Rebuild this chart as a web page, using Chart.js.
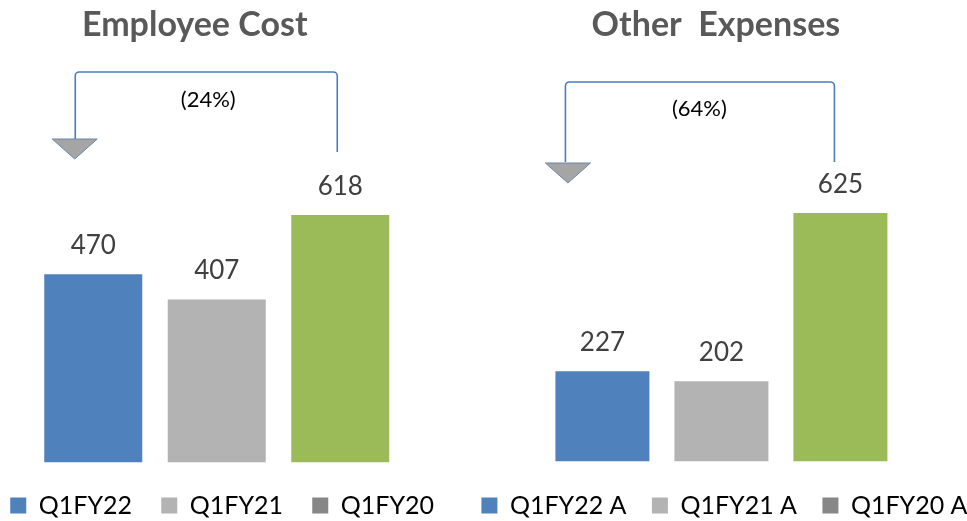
<!DOCTYPE html>
<html>
<head>
<meta charset="utf-8">
<script src="https://cdn.jsdelivr.net/npm/chart.js@4.4.1/dist/chart.umd.min.js"></script>
<style>
  html, body { margin: 0; padding: 0; background: #fff; overflow: hidden; width: 967px; height: 521px; }
  canvas { position: absolute; top: 0; }
</style>
</head>
<body>
<canvas id="employee-chart"></canvas>
<canvas id="expense-chart"></canvas>
<script>
// data
const categories = ['Q1FY22', 'Q1FY21', 'Q1FY20'];
const employeeCost = [470, 407, 618];
const otherExpenses = [227, 202, 625];
const employeeLegend = ['Q1FY22', 'Q1FY21', 'Q1FY20'];
const expenseLegend = ['Q1FY22 A', 'Q1FY21 A', 'Q1FY20 A'];
const chartTitles = ['Employee Cost', 'Other  Expenses'];
const changeLabels = ['(24%)', '(64%)'];

const barColors = ['#4F81BD', '#B3B3B3', '#9BBB59'];
const legendColors = ['#4F81BD', '#B3B3B3', '#878787'];
const FONT = 'Lato, "Open Sans", sans-serif';
const LEGEND_SIZE = 25;
const LEGEND_BOX = 16;

// draws titles, value labels and the bracket arrow
function makeDecor(spec, offsetX) {
  return {
    id: 'decor',
    afterDatasetsDraw(chart) {
      const ctx = chart.ctx;
      ctx.save();
      // title
      ctx.fillStyle = '#595959';
      ctx.font = 'bold 34px ' + FONT;
      ctx.textAlign = 'center';
      ctx.textBaseline = 'alphabetic';
      ctx.fillText(spec.title, spec.titleX - offsetX, 36);

      // value labels
      ctx.fillStyle = '#404040';
      ctx.font = '26px ' + FONT;
      chart.getDatasetMeta(0).data.forEach((bar, i) => {
        ctx.fillText(String(spec.values[i]), bar.x, bar.y - 20);
      });

      // bracket
      const b = spec.bracket;
      const x1 = b.x1 - offsetX, x2 = b.x2 - offsetX, r = 4;
      ctx.strokeStyle = '#4A7EBB';
      ctx.lineWidth = 1.6;
      ctx.beginPath();
      ctx.moveTo(x1, b.leftBottom);
      ctx.arcTo(x1, b.top, x1 + r, b.top, r);
      ctx.arcTo(x2, b.top, x2, b.top + r, r);
      ctx.lineTo(x2, b.rightBottom);
      ctx.stroke();

      // arrow head
      const cx = b.triX - offsetX;
      ctx.beginPath();
      ctx.moveTo(cx - 22.5, b.triTop);
      ctx.lineTo(cx + 22.5, b.triTop);
      ctx.lineTo(cx, b.triTop + 20);
      ctx.closePath();
      ctx.fillStyle = '#A5A5A5';
      ctx.fill();
      ctx.lineWidth = 1;
      ctx.strokeStyle = '#6B86A8';
      ctx.stroke();

      // change label
      ctx.fillStyle = '#000';
      ctx.font = '22px ' + FONT;
      ctx.textBaseline = 'middle';
      ctx.fillText(b.label, b.labelX - offsetX, b.labelY);
      ctx.restore();
    }
  };
}

function buildChart(id, spec) {
  const canvas = document.getElementById(id);
  const m = canvas.getContext('2d');
  m.font = LEGEND_SIZE + 'px ' + FONT;
  const textW = m.measureText(spec.legend[0]).width;
  const labelPad = spec.legendStep - LEGEND_BOX - LEGEND_SIZE / 2 - textW;
  const left = spec.firstBoxX - labelPad;
  const gap = Math.max(0, 505 - LEGEND_SIZE / 2 - labelPad - spec.areaBottom);
  const width = Math.ceil(Math.max(spec.minRight - left, 3 * (LEGEND_BOX + LEGEND_SIZE / 2 + textW + labelPad) + labelPad + 20));
  const height = Math.ceil(spec.areaBottom + gap + labelPad + LEGEND_SIZE + 10);

  canvas.width = width;
  canvas.height = height;
  canvas.style.width = width + 'px';
  canvas.style.height = height + 'px';
  canvas.style.left = left + 'px';

  new Chart(canvas.getContext('2d'), {
    type: 'bar',
    data: {
      labels: categories,
      datasets: [{
        label: spec.title,
        data: spec.values,
        backgroundColor: barColors,
        borderWidth: 0,
        categoryPercentage: 1,
        barPercentage: spec.barPct
      }]
    },
    options: {
      responsive: false,
      animation: false,
      layout: { padding: { top: spec.areaTop, left: 0, right: 0, bottom: 0 } },
      plugins: {
        title: { display: false },
        tooltip: { enabled: false },
        legend: {
          position: 'bottom',
          align: 'start',
          onClick: null,
          labels: {
            boxWidth: LEGEND_BOX,
            boxHeight: LEGEND_BOX,
            padding: labelPad,
            color: '#595959',
            font: { family: FONT, size: LEGEND_SIZE },
            generateLabels: () => spec.legend.map((t, i) => ({
              text: t,
              fillStyle: legendColors[i],
              strokeStyle: legendColors[i],
              lineWidth: 0,
              hidden: false,
              index: i
            }))
          }
        }
      },
      scales: {
        x: {
          grid: { display: false },
          border: { display: false },
          ticks: { display: false },
          afterFit: s => { s.height = gap; }
        },
        y: {
          min: 0,
          max: spec.yMax,
          grid: { display: false },
          border: { display: false },
          ticks: { display: false },
          afterFit: s => { s.width = spec.areaLeft - left; }
        },
        yR: {
          position: 'right',
          min: 0,
          max: 1,
          grid: { display: false },
          border: { display: false },
          ticks: { display: false },
          afterFit: s => { s.width = width - (spec.areaRight - left); }
        }
      }
    },
    plugins: [makeDecor(spec, left)]
  });
}

buildChart('employee-chart', {
  title: chartTitles[0],
  values: employeeCost,
  legend: employeeLegend,
  titleX: 194.5,
  firstBoxX: 10,
  legendStep: 151,
  areaLeft: 31.25,
  areaRight: 401.75,
  minRight: 480,
  areaTop: 62,
  areaBottom: 462,
  yMax: 1000,
  barPct: 98 / 123.5,
  bracket: { x1: 75, x2: 337, top: 72, leftBottom: 140, rightBottom: 152,
             triX: 74.5, triTop: 139, label: changeLabels[0], labelX: 208, labelY: 100 }
});

buildChart('expense-chart', {
  title: chartTitles[1],
  values: otherExpenses,
  legend: expenseLegend,
  titleX: 715.5,
  firstBoxX: 481,
  legendStep: 170.5,
  areaLeft: 542.5,
  areaRight: 899.5,
  minRight: 967,
  areaTop: 64,
  areaBottom: 461,
  yMax: 1000,
  barPct: 94 / 119,
  bracket: { x1: 565, x2: 834, top: 82, leftBottom: 162, rightBottom: 162,
             triX: 567.5, triTop: 163, label: changeLabels[1], labelX: 699, labelY: 109 }
});
</script>
</body>
</html>
